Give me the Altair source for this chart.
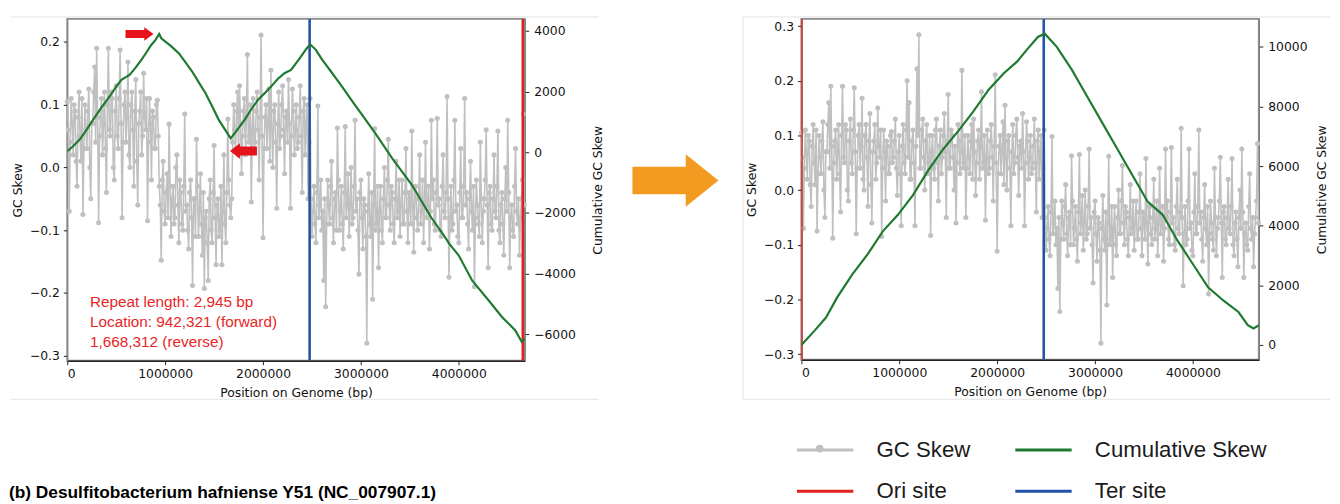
import altair as alt
import pandas as pd

# ---------------- data ----------------
WINDOW = 10000              # bp per GC-skew window
GENOME_END = 4674000        # right end of the x axis
TER_SITE = 2476000
ORI_BEFORE = 4654000
ORI_AFTER = 0

# GC skew, windows 0 .. 0.93 Mb (same in both panels)
skew_head = [0.105, 0.06, -0.07, 0.04, 0.11, 0.07, 0.02, 0.10, 0.09, 0.01,
             -0.03, 0.08, 0.12, 0.05, 0.01, 0.11, -0.075, 0.03, 0.10, 0.06,
             0.03, 0.09, 0.125, 0.00, -0.05, 0.07, 0.07, 0.12, 0.16, 0.04,
             0.19, 0.08, -0.088, 0.05, 0.09, 0.11, 0.02, 0.07, 0.12, 0.03,
             -0.04, 0.10, 0.19, 0.06, 0.05, 0.12, 0.11, 0.00, -0.02, 0.09,
             0.13, 0.05, 0.03, 0.11, 0.187, 0.07, -0.08, 0.04, 0.10, 0.12,
             0.04, 0.08, 0.168, 0.02, 0.00, 0.10, 0.12, 0.06, -0.03, 0.09,
             0.14, 0.01, -0.06, 0.07, 0.09, 0.12, 0.02, 0.05, 0.15, 0.08,
             0.06, 0.11, -0.085, 0.04, 0.11, 0.07, -0.02, 0.09, 0.08, 0.03,
             0.03, 0.10, 0.107, 0.05]
# windows 0.94 .. 1.67 Mb, before correction (inverted segment)
skew_inv_before = [-0.03, -0.06, -0.148, -0.02, 0.01, -0.07, -0.09, -0.04, -0.01, -0.08,
                   0.069, -0.03, -0.11, -0.05, -0.03, -0.09, -0.08, 0.00, 0.02, -0.06,
                   -0.12, -0.02, -0.04, -0.09, -0.10, -0.03, 0.085, -0.07, -0.06, -0.10,
                   -0.13, -0.04, -0.02, -0.08, -0.188, -0.05, -0.05, -0.11, 0.045, -0.03,
                   -0.11, -0.07, -0.01, -0.09, -0.14, -0.04, -0.193, -0.08, -0.07, -0.12,
                   -0.18, -0.05, -0.02, -0.10, -0.12, -0.04, 0.035, -0.08, -0.155, -0.06,
                   -0.05, -0.11, -0.10, -0.03, -0.155, -0.07, 0.02, -0.09, -0.12, -0.04,
                   0.077, -0.02, -0.06, -0.08]
# windows 0.94 .. 1.67 Mb, after correction
skew_inv_after = [0.06, 0.09, 0.13, 0.04, -0.01, 0.07, 0.10, 0.03, -0.065, 0.08,
                  0.12, 0.05, 0.03, 0.11, 0.20, 0.06, 0.16, 0.02, 0.02, 0.09,
                  0.11, 0.05, -0.065, 0.08, 0.222, 0.10, 0.284, 0.04, 0.04, 0.11,
                  0.13, 0.06, 0.00, 0.09, 0.12, 0.03, 0.05, 0.10, -0.083, 0.07,
                  0.10, 0.04, 0.02, 0.11, 0.13, 0.05, -0.02, 0.08, 0.11, 0.03,
                  0.06, 0.10, 0.14, 0.07, -0.05, 0.09, 0.175, 0.04, 0.04, 0.11,
                  0.10, 0.06, 0.00, 0.08, -0.06, 0.05, 0.12, 0.09, 0.03, 0.07,
                  0.219, 0.04, 0.05, 0.10]
# windows 1.68 .. 4.67 Mb (same in both panels)
skew_tail = [-0.05, 0.04, 0.10, 0.06, 0.03, 0.09, 0.12, 0.02, 0.13, 0.07,
             -0.01, 0.05, 0.09, 0.11, 0.02, 0.08, 0.18, 0.04, 0.05, 0.10,
             -0.055, 0.06, 0.11, 0.03, 0.04, 0.09, 0.12, 0.06, -0.02, 0.08,
             0.211, 0.05, -0.112, 0.03, 0.08, 0.10, 0.03, 0.07, 0.125, 0.01,
             0.155, 0.06, 0.00, 0.09, 0.10, 0.04, -0.065, 0.07, 0.12, 0.03,
             0.05, 0.10, 0.13, 0.06, -0.01, 0.08, 0.09, 0.04, 0.14, 0.07,
             -0.065, 0.05, 0.125, 0.09, 0.02, 0.06, 0.10, 0.03, 0.04, 0.08,
             0.13, 0.05, -0.04, 0.09, 0.11, 0.02, 0.07, 0.10, -0.05, 0.04,
             0.11, -0.05, -0.11, -0.07, -0.03, -0.09, -0.12, -0.04, 0.098, -0.08,
             -0.06, -0.02, -0.10, -0.07, -0.18, -0.05, -0.222, -0.09, -0.02, -0.06,
             -0.09, -0.03, 0.01, -0.08, -0.12, -0.05, -0.04, -0.10, 0.063, -0.02,
             -0.10, -0.07, -0.03, -0.09, -0.13, -0.04, 0.065, -0.08, -0.06, -0.01,
             -0.11, -0.06, 0.00, -0.09, -0.08, -0.03, 0.075, -0.07, -0.05, -0.10,
             -0.17, -0.04, -0.02, -0.08, -0.13, -0.05, -0.06, -0.11, -0.28, -0.07,
             -0.01, -0.09, -0.11, -0.04, -0.21, -0.06, 0.062, -0.10, -0.09, -0.03,
             -0.16, -0.07, -0.03, -0.10, -0.12, -0.05, 0.00, -0.08, -0.08, -0.02,
             0.045, -0.06, -0.10, -0.03, -0.04, -0.09, -0.12, -0.05, 0.01, -0.08,
             -0.07, -0.02, -0.11, -0.06, -0.02, -0.09, -0.09, -0.04, 0.03, -0.07,
             -0.12, -0.04, -0.05, -0.09, 0.058, -0.06, -0.135, -0.03, -0.03, -0.08,
             -0.10, -0.05, 0.02, -0.09, -0.07, -0.02, -0.12, -0.06, 0.04, -0.08,
             -0.06, -0.03, -0.13, -0.07, 0.075, -0.05, -0.02, -0.09, -0.10, -0.04,
             0.078, -0.06, -0.05, -0.10, -0.11, -0.03, 0.02, -0.07, -0.08, -0.04,
             0.113, -0.05, -0.175, -0.08, -0.03, -0.10, -0.09, -0.02, 0.075, -0.07,
             -0.06, -0.11, -0.12, -0.04, 0.03, -0.08, -0.08, -0.03, 0.11, -0.06,
             -0.04, -0.09, -0.13, -0.05, 0.01, -0.07, -0.10, -0.03, -0.19, -0.08,
             -0.02, -0.06, -0.09, -0.11, 0.04, -0.05, -0.12, -0.07, -0.05, -0.02,
             0.06, -0.06, -0.16, -0.04, -0.03, -0.09, -0.10, -0.05, 0.02, -0.07,
             -0.08, -0.03, 0.058, -0.10, -0.12, -0.06, -0.04, -0.09, -0.14, -0.05,
             0.00, -0.07, 0.075, -0.04, -0.16, -0.08, -0.06, -0.10, -0.11, -0.03,
             0.03, -0.07, -0.09, -0.05, -0.14, -0.08, -0.05, -0.02, 0.085, -0.06]

# cumulative GC skew, before correction
cum_before_pos = [0, 60000, 131000, 200000, 266000, 350000, 434000, 500000, 553000, 636000,
                  700000, 755000, 810000, 856000, 900000, 939000, 960000, 1060000, 1141000, 1210000,
                  1276000, 1345000, 1411000, 1480000, 1545000, 1610000, 1670000, 1740000, 1815000, 1880000,
                  1949000, 2020000, 2084000, 2150000, 2219000, 2286000, 2340000, 2387000, 2440000, 2481000,
                  2540000, 2600000, 2700000, 2800000, 2920000, 3040000, 3160000, 3320000, 3520000, 3720000,
                  3840000, 3900000, 4000000, 4138000, 4306000, 4441000, 4576000, 4643000, 4674000]
cum_before_val = [40, 200, 436, 760, 1088, 1480, 1850, 2170, 2391, 2554,
                  2800, 3042, 3300, 3531, 3700, 3900, 3760, 3500, 3261, 2960,
                  2664, 2300, 1958, 1520, 1088, 760, 459, 760, 1088, 1420,
                  1739, 1960, 2176, 2420, 2609, 2717, 2950, 3153, 3400, 3564,
                  3380, 3072, 2640, 2200, 1650, 1111, 566, -196, -1068, -2157,
                  -2700, -3000, -3400, -4231, -4883, -5427, -5860, -6241, -6150]
# cumulative GC skew, after correction
cum_after_pos = [0, 135000, 251000, 367000, 522000, 676000, 831000, 986000, 1140000, 1295000,
                 1450000, 1604000, 1759000, 1913000, 2068000, 2203000, 2300000, 2416000, 2486000, 2609000,
                 2764000, 2918000, 3073000, 3228000, 3382000, 3537000, 3691000, 3846000, 4001000, 4155000,
                 4310000, 4465000, 4561000, 4619000, 4674000]
cum_after_val = [0, 480, 920, 1602, 2376, 3039, 3812, 4365, 5028, 5856,
                 6575, 7182, 7845, 8564, 9116, 9503, 9890, 10331, 10442, 10000,
                 9227, 8343, 7459, 6575, 5691, 4807, 4365, 3481, 2707, 1934,
                 1492, 1105, 663, 552, 663]

x_ticks = [0, 1000000, 2000000, 3000000, 4000000]
gc_ticks_before = [-0.3, -0.2, -0.1, 0.0, 0.1, 0.2]
gc_ticks_after = [-0.3, -0.2, -0.1, 0.0, 0.1, 0.2, 0.3]
cum_ticks_before = [-6000, -4000, -2000, 0, 2000, 4000]
cum_ticks_after = [0, 2000, 4000, 6000, 8000, 10000]

note_lines = ["Repeat length: 2,945 bp", "Location: 942,321 (forward)", "1,668,312 (reverse)"]
note_pos = 232000
note_gc = [-0.2147, -0.2465, -0.2780]
arrow_peak = (738000, 3902)      # points at the forward copy (cumulative scale)
arrow_trough = (1800000, 42)     # points at the reverse copy

# legend order: column 1 = GC Skew / Ori site, column 2 = Cumulative Skew / Ter site
series_names = ["GC Skew", "Ori site", "Cumulative Skew", "Ter site"]
series_colors = ["#c0c0c0", "#e3211c", "#1f7a31", "#2352a8"]
title_text = "(b) Desulfitobacterium hafniense Y51 (NC_007907.1)"

# ---------------- tables ----------------
skew_before = skew_head + skew_inv_before + skew_tail
skew_after = skew_head + skew_inv_after + skew_tail
positions = [i * WINDOW for i in range(len(skew_before))]

df_skew_before = pd.DataFrame({"pos": positions, "gc": skew_before, "series": "GC Skew"})
df_skew_after = pd.DataFrame({"pos": positions, "gc": skew_after, "series": "GC Skew"})
df_cum_before = pd.DataFrame({"pos": cum_before_pos, "cum": cum_before_val, "series": "Cumulative Skew"})
df_cum_after = pd.DataFrame({"pos": cum_after_pos, "cum": cum_after_val, "series": "Cumulative Skew"})
df_rules_before = pd.DataFrame({"pos": [ORI_BEFORE, TER_SITE], "series": ["Ori site", "Ter site"]})
df_rules_after = pd.DataFrame({"pos": [ORI_AFTER, TER_SITE], "series": ["Ori site", "Ter site"]})
df_note = pd.DataFrame({"pos": [note_pos] * 3, "gc": note_gc, "note": note_lines})
df_arrow1 = pd.DataFrame({"pos": [arrow_peak[0]], "cum": [arrow_peak[1]]})
df_arrow2 = pd.DataFrame({"pos": [arrow_trough[0]], "cum": [arrow_trough[1]]})
one = pd.DataFrame({"k": [0]})

AX_FONT = "DejaVu Sans"
TXT_FONT = "Liberation Sans, Arial, sans-serif"

legend_def = alt.Legend(
    orient="none", legendX=737, legendY=406, columns=2, title=None,
    symbolType="stroke", symbolSize=3249, symbolStrokeWidth=3,
    labelFont=TXT_FONT, labelFontSize=22.5, labelColor="#1b1b1b", labelLimit=400,
    labelOffset=22, columnPadding=38, rowPadding=0, padding=0,
)
color_enc = alt.Color("series:N", scale=alt.Scale(domain=series_names, range=series_colors),
                      legend=legend_def)

x_enc = alt.X("pos:Q", scale=alt.Scale(domain=[0, GENOME_END], nice=False, zero=False),
              axis=alt.Axis(values=x_ticks, format="d", title="Position on Genome (bp)",
                            domainColor="#222222", domainWidth=1.3, labelPadding=3, titlePadding=7))


def y_gc(domain, ticks):
    return alt.Y("gc:Q", scale=alt.Scale(domain=domain, nice=False, zero=False),
                 axis=alt.Axis(orient="left", values=ticks, format=".1f", title="GC Skew",
                               domainColor="#8a8a8a", labelPadding=4, titlePadding=5))


def y_cum(domain, ticks, title_pad):
    return alt.Y("cum:Q", scale=alt.Scale(domain=domain, nice=False, zero=False),
                 axis=alt.Axis(orient="right", values=ticks, format="d", title="Cumulative GC Skew",
                               titleAngle=270, domainColor="#7a7a7a", labelPadding=5, titlePadding=title_pad))


def arrow_path(direction):
    if direction == "right":
        return "M-1,-0.29L0.34,-0.29L0.34,-0.49L1,0L0.34,0.49L0.34,0.29L-1,0.29Z"
    return "M1,-0.33L-0.26,-0.33L-0.26,-0.575L-1,0L-0.26,0.575L-0.26,0.33L1,0.33Z"


def frame_rule(x1, x2, y1, y2=None):
    enc = dict(x=alt.value(x1), y=alt.value(y1))
    if x2 is not None:
        enc["x2"] = alt.value(x2)
    if y2 is not None:
        enc["y2"] = alt.value(y2)
    return alt.Chart(one).mark_rule(color="#e3e3e3", strokeWidth=1).encode(**enc)


def panel(df_skew, df_cum, df_rules, gc_dom, gc_ticks, cum_dom, cum_ticks, cum_title_pad, height,
          decor, extras_gc, extras_cum):
    yg = y_gc(gc_dom, gc_ticks)
    yc = y_cum(cum_dom, cum_ticks, cum_title_pad)
    line = alt.Chart(df_skew).mark_line(strokeWidth=1.6, clip=True).encode(x=x_enc, y=yg, color=color_enc)
    pts = alt.Chart(df_skew).mark_circle(size=26, opacity=1, color="#c0c0c0").encode(x=x_enc, y=yg)
    rules = alt.Chart(df_rules).mark_rule(strokeWidth=2.6, clip=True).encode(x=x_enc, color=color_enc)
    gc_group = alt.layer(*decor, line, pts, rules, *[f(yg) for f in extras_gc])
    cum_line = alt.Chart(df_cum).mark_line(strokeWidth=2.2, clip=True).encode(x=x_enc, y=yc, color=color_enc)
    cum_group = alt.layer(cum_line, *[f(yc) for f in extras_cum])
    return alt.layer(gc_group, cum_group).resolve_scale(y="independent").properties(width=463, height=height)


# ---- left panel extras ----
bounds_rect = alt.Chart(one).mark_rect(opacity=0).encode(
    x=alt.value(-59), x2=alt.value(1265), y=alt.value(-7), y2=alt.value(481))
left_decor = [bounds_rect, frame_rule(-57, 538, -2), frame_rule(-57, 538, 385)]


def note_layer(yg):
    return alt.Chart(df_note).mark_text(align="left", baseline="middle", font=TXT_FONT, fontSize=15.5,
                                        color="#e8251f").encode(x=x_enc, y=yg, text="note:N")


def title_layer(yg):
    return alt.Chart(one).mark_text(align="left", baseline="alphabetic", font=TXT_FONT,
                                    fontSize=17.5, fontWeight="bold", color="#000000").encode(
        x=alt.value(-59), y=alt.value(485), text=alt.value(title_text))


def orange_arrow(yg):
    return alt.Chart(one).mark_point(
        shape="M-1,-0.32L0.24,-0.32L0.24,-0.61L1,0L0.24,0.61L0.24,0.32L-1,0.32Z",
        filled=True, size=7569, opacity=1, color="#f39a21", strokeWidth=0).encode(
        x=alt.value(615.5), y=alt.value(163.5))


def legend_dot(yg):
    return alt.Chart(one).mark_point(shape="circle", filled=True, size=60, opacity=1, color="#c0c0c0").encode(
        x=alt.value(761.5), y=alt.value(435))


def red_arrow_1(yc):
    return alt.Chart(df_arrow1).mark_point(shape=arrow_path("right"), filled=True, size=801, opacity=1,
                                           color="#e5131b", strokeWidth=0).encode(x=x_enc, y=yc)


def red_arrow_2(yc):
    return alt.Chart(df_arrow2).mark_point(shape=arrow_path("left"), filled=True, size=745, opacity=1,
                                           color="#e5131b", strokeWidth=0).encode(x=x_enc, y=yc)


left = panel(df_skew_before, df_cum_before, df_rules_before,
             [-0.308, 0.2367], gc_ticks_before, [-6870, 4400], cum_ticks_before, 29, 346,
             left_decor, [note_layer, title_layer, orange_arrow, legend_dot],
             [red_arrow_1, red_arrow_2])

right_decor = [frame_rule(-59, 535, -2), frame_rule(-59, 535, 385), frame_rule(-59, None, -2, 385)]
right = panel(df_skew_after, df_cum_after, df_rules_after,
              [-0.3103, 0.3132], gc_ticks_after, [-497, 10938], cum_ticks_after, 22, 345,
              right_decor, [], [])

chart = alt.hconcat(left, right, spacing=280, bounds="flush").properties(
    padding=0, background="white"
).configure_view(
    stroke="#8d8d8d", strokeWidth=2
).configure_axis(
    labelFont=AX_FONT, labelFontSize=12.5, labelColor="#111111",
    titleFont=AX_FONT, titleFontSize=12.5, titleFontWeight="normal", titleColor="#111111",
    tickColor="#222222", tickSize=4, tickWidth=1, grid=False
)

chart.save("out.html", embed_options={"renderer": "svg", "actions": False})
